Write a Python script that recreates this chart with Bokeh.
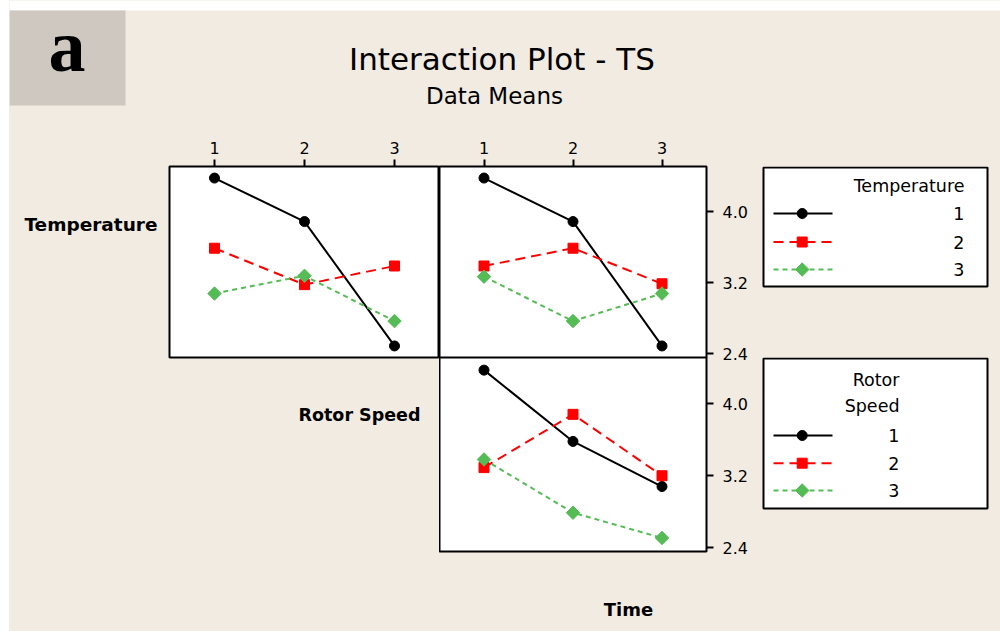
from bokeh.plotting import figure
from bokeh.layouts import row, column
from bokeh.models import Range1d, FixedTicker, Label, BoxAnnotation, Spacer, NumeralTickFormatter
from bokeh.core.properties import value
from bokeh.embed import file_html
from bokeh.resources import INLINE

# ---- data: mean TS for each factor level ----
levels = [1, 2, 3]
level_labels = ["1", "2", "3"]

# Temperature traces across Rotor Speed levels
temp_rotor_t1 = [4.38, 3.89, 2.49]
temp_rotor_t2 = [3.59, 3.18, 3.39]
temp_rotor_t3 = [3.08, 3.28, 2.77]

# Temperature traces across Time levels
temp_time_t1 = [4.38, 3.89, 2.49]
temp_time_t2 = [3.39, 3.59, 3.19]
temp_time_t3 = [3.27, 2.77, 3.08]

# Rotor Speed traces across Time levels
rotor_time_r1 = [4.37, 3.58, 3.08]
rotor_time_r2 = [3.29, 3.88, 3.20]
rotor_time_r3 = [3.38, 2.79, 2.51]

y_ticks = [2.4, 3.2, 4.0]
x_span = (0.5, 3.5)
y_span = (2.36, 4.51)

# ---- styling ----
BEIGE = "#f1ebe2"
BOX_GRAY = "#cfc8c0"
FONT = "DejaVu Sans"
SERIES = [
    dict(color="#000000", dash="solid", marker="circle", size=10, angle=0.0),
    dict(color="#ff0000", dash="10 6", marker="square", size=10, angle=0.0),
    dict(color="#55bb55", dash="5 4", marker="square", size=9.5, angle=0.785398),
]
OVERLAP = 10  # rows overlap so tick labels at a panel edge are not cut


def base_fig(width, height, left=0, right=0, top=0, bottom=0, xaxis=False, yaxis=False,
             frame=True, clear=False, xr=x_span, yr=y_span):
    p = figure(width=width, height=height,
               x_range=Range1d(*xr), y_range=Range1d(*yr),
               x_axis_location="above" if xaxis else None,
               y_axis_location="right" if yaxis else None,
               output_backend="svg", toolbar_location=None,
               min_border_left=left, min_border_right=right,
               min_border_top=top, min_border_bottom=bottom)
    p.grid.visible = False
    p.border_fill_color = BEIGE
    p.border_fill_alpha = 0.0 if clear else 1.0
    if frame:
        p.background_fill_color = "white"
        p.outline_line_color = "black"
        p.outline_line_width = 2
    else:
        p.background_fill_color = BEIGE
        p.background_fill_alpha = 0.0 if clear else 1.0
        p.outline_line_color = None
    for ax in p.axis:
        ax.axis_line_color = None
        ax.major_tick_in = 0
        ax.major_tick_out = 7
        ax.major_tick_line_width = 2
        ax.major_tick_line_color = "black"
        ax.minor_tick_line_color = None
        ax.major_label_text_font = FONT
        ax.major_label_text_font_size = "16px"
        ax.major_label_text_color = "black"
    if xaxis:
        p.xaxis.ticker = FixedTicker(ticks=levels)
        p.xaxis.major_label_standoff = 6
    if yaxis:
        p.yaxis.ticker = FixedTicker(ticks=y_ticks)
        p.yaxis.formatter = NumeralTickFormatter(format="0.0")
        p.yaxis.major_label_standoff = 9
    return p


def draw_traces(p, traces):
    for ys, st in zip(traces, SERIES):
        p.line(levels, ys, line_color=st["color"], line_width=2, line_dash=st["dash"])
    for ys, st in zip(traces, SERIES):
        p.scatter(levels, ys, marker=st["marker"], size=st["size"], angle=st["angle"],
                  fill_color=st["color"], line_color=st["color"])


def label(p, x, y, text, size, bold=False, align="left", font=FONT):
    p.add_layout(Label(x=x, y=y, x_units="screen", y_units="screen", text=text,
                       text_font=font, text_font_size=size,
                       text_font_style="bold" if bold else "normal",
                       text_align=align, text_baseline="middle", text_color="black"))


def screen_box(p, left, right, bottom, top, fill, line=None, level="underlay"):
    p.add_layout(BoxAnnotation(left=left, right=right, bottom=bottom, top=top,
                               left_units="screen", right_units="screen",
                               bottom_units="screen", top_units="screen",
                               fill_color=fill, fill_alpha=1.0,
                               line_color=line, line_alpha=1.0, line_width=2,
                               level=level))


def legend_fig(width, height, top, bottom, box, title_lines, title_ys, row_ys, text_right,
               clear=False):
    # frame coordinates are plain pixels measured from the frame's lower-left corner
    fh = height - top - bottom
    p = base_fig(width, height, top=top, bottom=bottom, frame=False, clear=clear,
                 xr=(0, width), yr=(0, fh))
    bl, br, bb, bt = box
    screen_box(p, bl, br, bb, bt, "white", "black")
    for ry, st in zip(row_ys, SERIES):
        p.line([18, 77], [ry, ry], line_color=st["color"], line_width=2, line_dash=st["dash"])
        p.scatter([46.7], [ry], marker=st["marker"], size=st["size"], angle=st["angle"],
                  fill_color=st["color"], line_color=st["color"])
    p.text(x=[text_right] * len(level_labels), y=row_ys, text=level_labels,
           text_align="right", text_baseline="middle",
           text_font=value(FONT), text_font_size="17.5px", text_color="black")
    p.text(x=[text_right] * len(title_lines), y=title_ys, text=title_lines,
           text_align="right", text_baseline="middle",
           text_font=value(FONT), text_font_size="17.5px", text_color="black")
    return p


# ---- header: white top strip, panel letter and titles ----
header = base_fig(991, 130, frame=False, xr=(0, 1), yr=(0, 1))
screen_box(header, -5, 1000, 120, 140, "white")
screen_box(header, 0, 116, 25, 120, BOX_GRAY)
label(header, 57.5, 84.5, "a", "74px", bold=True, align="center", font="Liberation Serif")
label(header, 492.5, 72, "Interaction Plot - TS", "31px", align="center")
label(header, 485, 34.5, "Data Means", "23px", align="center")

# ---- top row: 36px top border, bottom border shared with the next row ----
lab_temp = base_fig(158, 227 + OVERLAP, top=36, bottom=OVERLAP, frame=False, xr=(0, 1), yr=(0, 1))
label(lab_temp, 148, 133, "Temperature", "18.5px", bold=True, align="right")

p_tr = base_fig(272, 227 + OVERLAP, left=2, top=36, bottom=OVERLAP, xaxis=True)
draw_traces(p_tr, [temp_rotor_t1, temp_rotor_t2, temp_rotor_t3])

p_tt = base_fig(316, 227 + OVERLAP, right=49, top=36, bottom=OVERLAP, xaxis=True, yaxis=True)
draw_traces(p_tt, [temp_time_t1, temp_time_t2, temp_time_t3])

leg_t = legend_fig(245, 227 + OVERLAP, 36, OVERLAP, (8, 232, 71, 190),
                   ["Temperature"], [172], [144, 115.5, 88], 209)

# ---- middle row: transparent borders so the row above shows through ----
lab_rotor = base_fig(430, 194 + OVERLAP, bottom=OVERLAP, frame=False, clear=True,
                     xr=(0, 1), yr=(0, 1))
label(lab_rotor, 411, 137, "Rotor Speed", "17.5px", bold=True, align="right")

p_rt = base_fig(316, 194 + OVERLAP, right=49, bottom=OVERLAP, yaxis=True, clear=True)
draw_traces(p_rt, [rotor_time_r1, rotor_time_r2, rotor_time_r3])

leg_r = legend_fig(245, 194 + OVERLAP, 0, OVERLAP, (8, 232, 43, 193),
                   ["Rotor", "Speed"], [171.7, 146], [116, 88.3, 61], 144, clear=True)

# ---- bottom strip with the x factor name ----
foot = base_fig(991, 80, frame=False, clear=True, xr=(0, 1), yr=(0, 1))
label(foot, 619, 22, "Time", "18px", bold=True, align="center")

body = column(header,
              row(lab_temp, p_tr, p_tt, leg_t),
              row(lab_rotor, p_rt, leg_r, margin=(-OVERLAP, 0, 0, 0)),
              row(foot, margin=(-OVERLAP, 0, 0, 0)),
              styles={"background-color": BEIGE})
page = row(Spacer(width=9, height=631), body)

open("out.html", "w").write(file_html(page, INLINE))
